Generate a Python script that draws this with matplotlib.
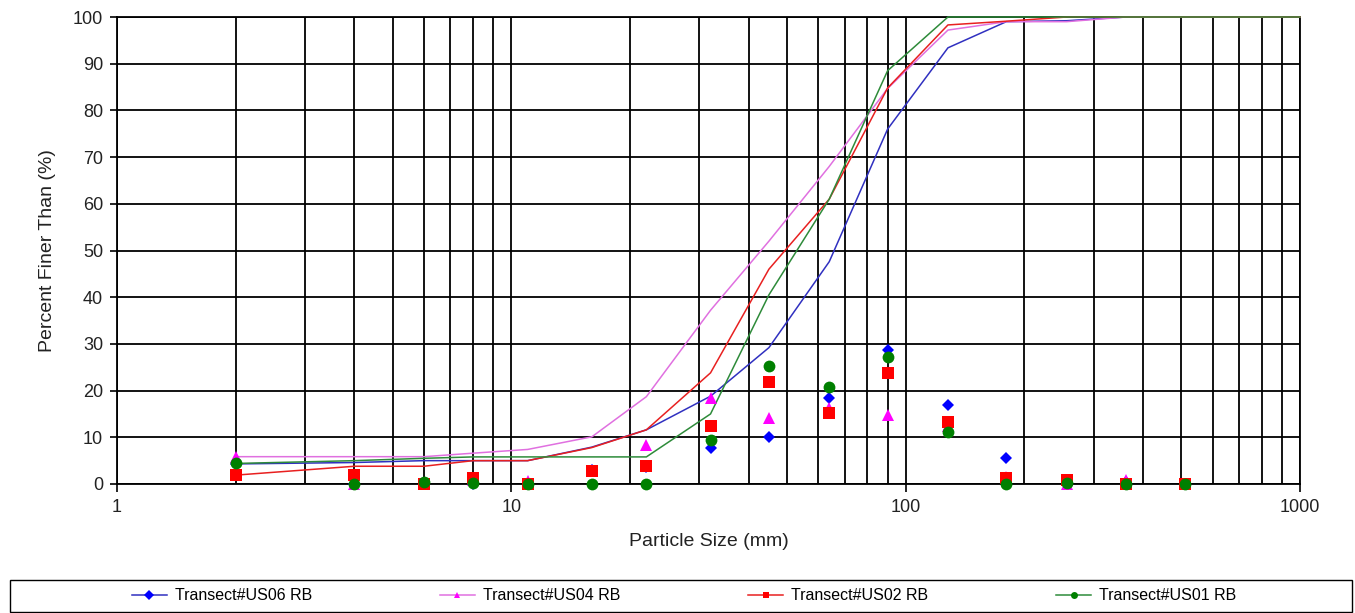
import matplotlib
matplotlib.use("Agg")
import matplotlib.pyplot as plt
from matplotlib.lines import Line2D
from matplotlib.patches import Rectangle
from matplotlib.ticker import FixedLocator, FixedFormatter, NullFormatter

plt.rcParams['font.family'] = ['Liberation Sans', 'DejaVu Sans']

# Sieve sizes (mm)
sizes = [2, 4, 6, 8, 11, 16, 22, 32, 45, 64, 90, 128, 180, 256, 362, 512]
line_sizes = [2, 4, 6, 8, 11, 16, 22, 32, 45, 64, 90, 128, 180, 256, 362, 512, 1000]

# Cumulative percent finer (lines)
us06_cum = [4.3, 4.6, 5.0, 5.0, 5.0, 7.9, 11.6, 18.8, 29.2, 47.6, 76.0, 93.4, 99.0, 99.2, 100, 100, 100]
us04_cum = [5.85, 5.85, 5.85, 6.6, 7.4, 10.1, 18.7, 37.2, 52.0, 68.0, 84.7, 97.2, 99.0, 99.0, 100, 100, 100]
us02_cum = [1.9, 3.8, 3.8, 5.0, 5.0, 7.8, 11.6, 23.8, 46.0, 61.0, 84.8, 98.3, 99.1, 100, 100, 100, 100]
us01_cum = [4.4, 5.0, 5.5, 5.8, 5.8, 5.8, 5.8, 15.0, 40.5, 61.0, 88.5, 100, 100, 100, 100, 100, 100]

# Percent in class (markers)
us06_pct = [4.3, 0.0, 0.0, 0.0, 0.0, 2.9, 3.7, 7.7, 10.1, 18.4, 28.7, 16.9, 5.6, 0.0, 0.5, 0.0]
us04_pct = [5.85, 0.0, 0.0, 0.8, 0.6, 2.7, 8.4, 18.4, 14.1, 16.3, 14.8, 12.5, 1.6, 0.0, 0.8, 0.0]
us02_pct = [1.9, 1.9, 0.0, 1.2, 0.0, 2.8, 3.9, 12.4, 21.9, 15.3, 23.8, 13.3, 1.3, 0.8, 0.0, 0.0]
us01_pct = [4.4, 0.1, 0.5, 0.3, 0.0, 0.0, 0.0, 9.4, 25.3, 20.8, 27.3, 11.2, 0.0, 0.2, 0.0, 0.0]

labels = ['Transect#US06 RB', 'Transect#US04 RB', 'Transect#US02 RB', 'Transect#US01 RB']
y_ticks = [0, 10, 20, 30, 40, 50, 60, 70, 80, 90, 100]
x_ticks = [1, 10, 100, 1000]
x_ticklabels = ['1', '10', '100', '1000']

line_colors = ['#3030C0', '#E070E0', '#E82020', '#2E8B3A']
marker_colors = ['#0000FF', '#FF00FF', '#FF0000', '#008000']
markers = ['D', '^', 's', 'o']
msizes = [6, 8, 8, 8.5]

fig = plt.figure(figsize=(13.55, 6.13), dpi=100)
ax = fig.add_axes([117/1355, 1 - 484/613, (1300 - 117)/1355, (484 - 17)/613])
ax.set_xscale('log')
ax.set_xlim(1, 1000)
ax.set_ylim(0, 100)

# gridlines
ax.xaxis.set_major_locator(FixedLocator(x_ticks))
ax.xaxis.set_major_formatter(FixedFormatter(x_ticklabels))
minor = [m * d for d in [1, 10, 100] for m in range(2, 10)]
ax.xaxis.set_minor_locator(FixedLocator(minor))
ax.xaxis.set_minor_formatter(NullFormatter())
ax.set_yticks(y_ticks)
ax.grid(True, which='major', axis='both', color='black', linewidth=1.3)
ax.grid(True, which='minor', axis='x', color='black', linewidth=1.3)
ax.set_axisbelow(True)
ax.tick_params(axis='x', which='minor', length=0)
ax.tick_params(axis='x', which='major', direction='out', length=6, width=1.2,
               labelsize=13, pad=5, labelcolor='#222222')
ax.tick_params(axis='y', direction='out', length=5, width=1.2, labelsize=13, pad=5,
               labelcolor='#222222')
for s in ax.spines.values():
    s.set_color('black')
    s.set_linewidth(1.3)

cums = [us06_cum, us04_cum, us02_cum, us01_cum]
pcts = [us06_pct, us04_pct, us02_pct, us01_pct]

for cum, lc in zip(cums, line_colors):
    ax.plot(line_sizes, cum, color=lc, linewidth=1.1, zorder=3, clip_on=False)

# series drawn in order; later series on top
for i in range(4):
    ax.plot(sizes, pcts[i], linestyle='none', marker=markers[i], color=marker_colors[i],
            markersize=msizes[i], markeredgewidth=0, zorder=4, clip_on=False)

ax.set_xlabel('Particle Size (mm)', fontsize=14, labelpad=12, color='#222222')
ax.set_ylabel('Percent Finer Than (%)', fontsize=14, labelpad=12, color='#222222')

handles = [Line2D([0], [0], color=line_colors[i], linewidth=1.1, marker=markers[i],
                  markerfacecolor=marker_colors[i], markeredgewidth=0, markersize=5)
           for i in range(4)]
fig.legend(handles, labels, loc='center', bbox_to_anchor=(684/1355, 1 - 596/613),
           ncol=4, frameon=False, fontsize=11.5, handlelength=2.2, handletextpad=0.5,
           columnspacing=8.0)
fig.patches.append(Rectangle((10/1355, 1 - 612/613), 1342/1355, 32/613,
                             transform=fig.transFigure, fill=False,
                             edgecolor='black', linewidth=1.0))

fig.savefig('out.png', dpi=100)
